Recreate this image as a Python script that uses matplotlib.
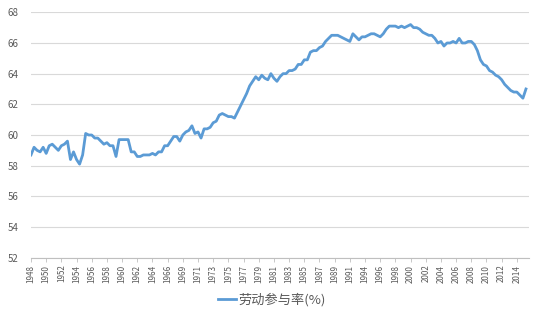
import matplotlib
matplotlib.use("Agg")
import matplotlib.pyplot as plt
import numpy as np

plt.rcParams['font.family'] = ['Noto Sans CJK SC', 'DejaVu Sans']

series_name = "劳动参与率(%)"
tick_labels = ["1948", "1950", "1952", "1954", "1956", "1958", "1960", "1962",
               "1964", "1966", "1969", "1971", "1973", "1975", "1977", "1979",
               "1981", "1983", "1985", "1987", "1989", "1991", "1994", "1996",
               "1998", "2000", "2002", "2004", "2006", "2008", "2010", "2012",
               "2014"]
points_per_label = 5

values = [
    58.7, 59.2, 59.0, 58.9, 59.2, 58.8, 59.3, 59.4, 59.2, 59.0,
    59.3, 59.4, 59.6, 58.4, 58.9, 58.4, 58.1, 58.7, 60.1, 60.0,
    60.0, 59.8, 59.8, 59.6, 59.4, 59.5, 59.3, 59.3, 58.6, 59.7,
    59.7, 59.7, 59.7, 58.9, 58.9, 58.6, 58.6, 58.7, 58.7, 58.7,
    58.8, 58.7, 58.9, 58.9, 59.3, 59.3, 59.6, 59.9, 59.9, 59.6,
    60.0, 60.2, 60.3, 60.6, 60.1, 60.2, 59.8, 60.4, 60.4, 60.5,
    60.8, 60.9, 61.3, 61.4, 61.3, 61.2, 61.2, 61.1, 61.5, 61.9,
    62.3, 62.7, 63.2, 63.5, 63.8, 63.6, 63.9, 63.7, 63.6, 64.0,
    63.7, 63.5, 63.8, 64.0, 64.0, 64.2, 64.2, 64.3, 64.6, 64.6,
    64.9, 64.9, 65.4, 65.5, 65.5, 65.7, 65.8, 66.1, 66.3, 66.5,
    66.5, 66.5, 66.4, 66.3, 66.2, 66.1, 66.6, 66.4, 66.2, 66.4,
    66.4, 66.5, 66.6, 66.6, 66.5, 66.4, 66.6, 66.9, 67.1, 67.1,
    67.1, 67.0, 67.1, 67.0, 67.1, 67.2, 67.0, 67.0, 66.9, 66.7,
    66.6, 66.5, 66.5, 66.3, 66.0, 66.1, 65.8, 66.0, 66.0, 66.1,
    66.0, 66.3, 66.0, 66.0, 66.1, 66.1, 65.9, 65.5, 64.9, 64.6,
    64.5, 64.2, 64.1, 63.9, 63.8, 63.6, 63.3, 63.1, 62.9, 62.8,
    62.8, 62.6, 62.4, 63.0,
]

gray = "#595959"
fig = plt.figure(figsize=(5.33, 3.15), dpi=100)
ax = fig.add_axes([31 / 533, 1 - 257.7 / 315, 498 / 533, (257.7 - 12.3) / 315])

x = np.arange(len(values))
line, = ax.plot(x, values, color="#5B9BD5", linewidth=2.0, solid_joinstyle="round",
                label=series_name)

ax.set_ylim(52, 68)
ax.set_yticks(np.arange(52, 69, 2))
ax.set_xlim(0, len(values))
ax.set_xticks(np.arange(len(tick_labels)) * points_per_label)
ax.set_xticklabels(tick_labels, rotation=90, fontsize=5.8, color=gray)
ax.tick_params(axis="x", length=3, width=0.6, color="#bfbfbf", pad=2)
ax.tick_params(axis="y", length=0, labelsize=7, labelcolor=gray, pad=9)

ax.grid(axis="y", color="#d9d9d9", linewidth=0.8)
ax.set_axisbelow(True)
for s in ["top", "right", "left"]:
    ax.spines[s].set_visible(False)
ax.spines["bottom"].set_color("#bfbfbf")
ax.spines["bottom"].set_linewidth(0.8)

leg = fig.legend(handles=[line], loc="center", bbox_to_anchor=(272 / 533, 1 - 300 / 315),
                 frameon=False, fontsize=9.5, handlelength=1.4, handletextpad=0.2,
                 labelcolor=gray)

fig.savefig("out.png", dpi=100)
